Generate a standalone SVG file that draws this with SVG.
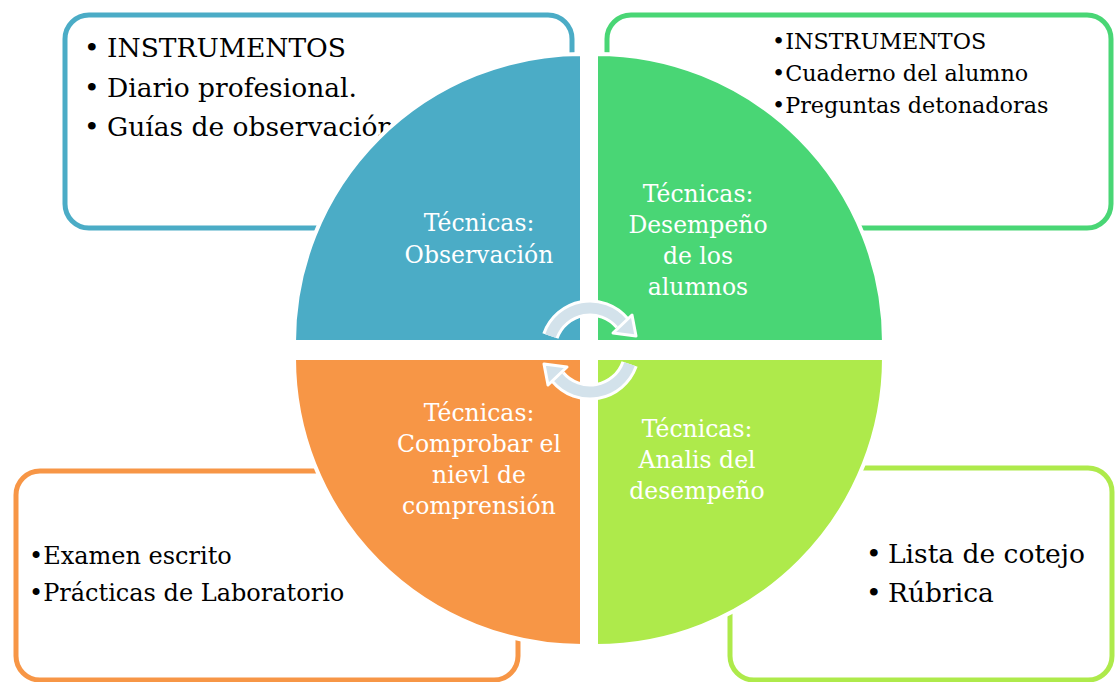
<svg xmlns="http://www.w3.org/2000/svg" width="1115" height="682" viewBox="0 0 1115 682">
<style>
.box{fill:#fff;stroke-width:5}
.q{stroke:#fff;stroke-width:4}
.bt{font-family:"DejaVu Serif","Liberation Serif",serif;fill:#000}
.lb{font-family:"DejaVu Serif","Liberation Serif",serif;fill:#fff;font-size:23.5px;text-anchor:middle}
.arc{fill:none;stroke:#d3e2eb;stroke-width:11}
.arcw{fill:none;stroke:#fff;stroke-width:17}
.ah{fill:#d3e2eb;stroke:#fff;stroke-width:3;stroke-linejoin:round}
</style>
<rect width="1115" height="682" fill="#fff"/>
<g id="box-observacion">
<rect class="box" x="65" y="15" width="507" height="213" rx="24" stroke="#4bacc6"/>
<text class="bt" font-size="26.5"><tspan x="84" y="57">•</tspan><tspan x="107" y="57">INSTRUMENTOS</tspan></text>
<text class="bt" font-size="26.5"><tspan x="84" y="97">•</tspan><tspan x="107" y="97">Diario profesional.</tspan></text>
<text class="bt" font-size="26.5"><tspan x="84" y="136">•</tspan><tspan x="107" y="136">Guías de observación</tspan></text>
</g>
<g id="box-desempeno">
<rect class="box" x="607" y="15" width="504" height="213" rx="24" stroke="#49d675"/>
<text class="bt" font-size="22.3" x="772" y="49">•INSTRUMENTOS</text>
<text class="bt" font-size="22.3" x="772" y="81">•Cuaderno del alumno</text>
<text class="bt" font-size="22.3" x="772" y="113">•Preguntas detonadoras</text>
</g>
<g id="box-comprension">
<rect class="box" x="16" y="471" width="502" height="209" rx="24" stroke="#f79646"/>
<text class="bt" font-size="24" x="29" y="564">•Examen escrito</text>
<text class="bt" font-size="24" x="29" y="601">•Prácticas de Laboratorio</text>
</g>
<g id="box-analisis">
<rect class="box" x="730" y="468" width="382" height="212" rx="24" stroke="#aeea4b"/>
<text class="bt" font-size="26.5"><tspan x="866" y="563">•</tspan><tspan x="888" y="563">Lista de cotejo</tspan></text>
<text class="bt" font-size="26.5"><tspan x="866" y="602">•</tspan><tspan x="888" y="602">Rúbrica</tspan></text>
</g>
<g id="q-observacion">
<path class="q" fill="#4bacc6" d="M582,342 L294,342 A288,288 0 0 1 582,54 Z"/>
<text class="lb"><tspan x="479" y="231">Técnicas:</tspan><tspan x="479" y="263">Observación</tspan></text>
</g>
<g id="q-desempeno">
<path class="q" fill="#49d675" d="M596,342 L596,54 A288,288 0 0 1 884,342 Z"/>
<text class="lb"><tspan x="698" y="202">Técnicas:</tspan><tspan x="698" y="233">Desempeño</tspan><tspan x="698" y="264">de los</tspan><tspan x="698" y="295">alumnos</tspan></text>
</g>
<g id="q-analisis">
<path class="q" fill="#aeea4b" d="M596,358 L884,358 A288,288 0 0 1 596,646 Z"/>
<text class="lb"><tspan x="697" y="437">Técnicas:</tspan><tspan x="697" y="468">Analis del</tspan><tspan x="697" y="499">desempeño</tspan></text>
</g>
<g id="q-comprension">
<path class="q" fill="#f79646" d="M582,358 L582,646 A288,288 0 0 1 294,358 Z"/>
<text class="lb"><tspan x="479" y="421">Técnicas:</tspan><tspan x="479" y="452">Comprobar el</tspan><tspan x="479" y="483">nievl de</tspan><tspan x="479" y="514">comprensión</tspan></text>
</g>
<g id="connectors">
<path class="arcw" d="M550.4,336 A42,42 0 0 1 622.2,323"/>
<path class="arcw" d="M629.6,364 A42,42 0 0 1 557.8,377"/>
<path class="arc" d="M550.4,336 A42,42 0 0 1 622.2,323"/>
<path class="arc" d="M629.6,364 A42,42 0 0 1 557.8,377"/>
<polygon class="ah" points="632,315 636,336 613,333"/>
<polygon class="ah" points="548,385 544,364 567,367"/>
</g>
</svg>
